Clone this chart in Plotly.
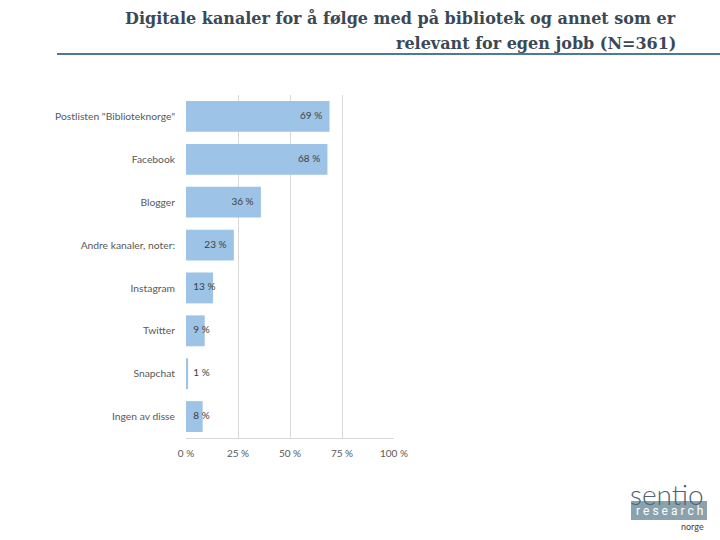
import numpy as np
import plotly.graph_objects as go

categories = ['Postlisten "Biblioteknorge"', "Facebook", "Blogger", "Andre kanaler, noter:",
              "Instagram", "Twitter", "Snapchat", "Ingen av disse"]
values = [69, 68, 36, 23, 13, 9, 1, 8]
labels = ["69 %", "68 %", "36 %", "23 %", "13 %", "9 %", "1 %", "8 %"]
tick_vals = [0, 25, 50, 75, 100]
tick_text = ["0 %", "25 %", "50 %", "75 %", "100 %"]
title_lines = ["Digitale kanaler for å følge med på bibliotek og annet som er",
               "relevant for egen jobb (N=361)"]

W, H = 720, 540
L, R, T, B = 186, 326, 95, 102
pw, ph = W - L - R, H - T - B

def px_x(p):
    return (p - L) / pw

def px_y(p):
    return (H - B - p) / ph

vals = np.array(values, dtype=float)
pad = 3.5
big = vals > 15
lab_x = np.where(big, vals - pad, pad)
lab_pos = np.where(big, "middle left", "middle right").tolist()

fig = go.Figure()
fig.add_trace(go.Bar(
    x=values, y=categories, orientation="h",
    marker=dict(color="#9dc3e6", line=dict(width=0)),
    hoverinfo="skip", showlegend=False,
))
fig.add_trace(go.Scatter(
    x=lab_x, y=categories, mode="text", text=labels, textposition=lab_pos,
    textfont=dict(family="Lato", size=10, color="#404040"),
    cliponaxis=False, hoverinfo="skip", showlegend=False,
))

title_font = dict(family="DejaVu Serif", size=16, color="#3b4856", weight="bold")
annotations = [
    dict(text=title_lines[0], xref="paper", yref="paper", x=px_x(678), y=px_y(18),
         xanchor="right", yanchor="middle", showarrow=False, font=title_font),
    dict(text=title_lines[1], xref="paper", yref="paper", x=px_x(678), y=px_y(43),
         xanchor="right", yanchor="middle", showarrow=False, font=title_font),
    dict(text="sentio", xref="paper", yref="paper", x=px_x(667), y=px_y(494),
         xanchor="center", yanchor="middle", showarrow=False,
         font=dict(family="Lato", size=28, color="#4d6575", weight=300)),
    dict(text="r e s e a r c h", xref="paper", yref="paper", x=px_x(669), y=px_y(511),
         xanchor="center", yanchor="middle", showarrow=False,
         font=dict(family="Roboto", size=12, color="white")),
    dict(text="norge", xref="paper", yref="paper", x=px_x(706), y=px_y(526),
         xanchor="right", yanchor="middle", showarrow=False,
         font=dict(family="Lato", size=9, color="#404040")),
]

fig.update_layout(
    width=W, height=H,
    margin=dict(l=L, r=R, t=T, b=B),
    paper_bgcolor="white", plot_bgcolor="white",
    bargap=0.28,
    xaxis=dict(range=[0, 100], tickvals=tick_vals, ticktext=tick_text,
               showgrid=True, gridcolor="#d9d9d9", gridwidth=1,
               showline=True, linecolor="#d9d9d9", linewidth=1,
               zeroline=False, ticks="", ticklabelstandoff=6,
               tickfont=dict(family="Lato", size=10, color="#595959"), fixedrange=True),
    yaxis=dict(autorange="reversed", showgrid=False, showline=False, zeroline=False,
               ticks="", ticklabelstandoff=10,
               tickfont=dict(family="Lato", size=10.3, color="#595959"), fixedrange=True),
    shapes=[
        dict(type="line", xref="paper", yref="paper",
             x0=px_x(57), x1=px_x(720), y0=px_y(54), y1=px_y(54),
             line=dict(color="#4a7c9a", width=2)),
        dict(type="rect", xref="paper", yref="paper",
             x0=px_x(631), x1=px_x(707), y0=px_y(520), y1=px_y(501),
             fillcolor="#8aa2ae", line=dict(width=0), layer="below"),
    ],
    annotations=annotations,
)

fig.write_html("out.html", config={"displayModeBar": False},
               post_script="document.body.style.margin='0';")
